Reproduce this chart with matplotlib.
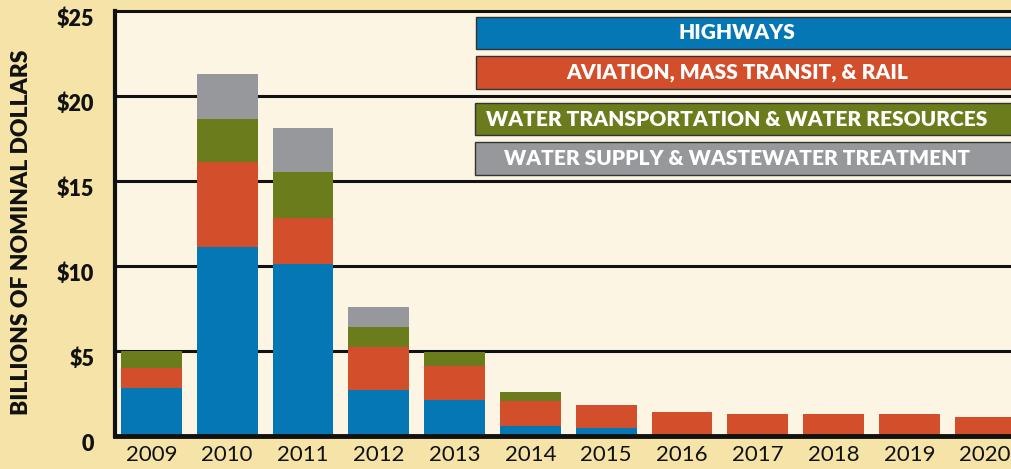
import matplotlib
matplotlib.use("Agg")
import matplotlib.pyplot as plt
import matplotlib.transforms as mtransforms
from matplotlib.patches import Rectangle
import numpy as np

years = ["2009", "2010", "2011", "2012", "2013", "2014", "2015", "2016", "2017", "2018", "2019", "2020"]
highways = [2.8, 11.1, 10.1, 2.7, 2.1, 0.6, 0.47, 0, 0, 0, 0, 0]
aviation = [1.2, 5.0, 2.7, 2.5, 2.0, 1.45, 1.33, 1.39, 1.28, 1.28, 1.28, 1.1]
water_transport = [1.0, 2.5, 2.7, 1.2, 0.8, 0.53, 0, 0, 0, 0, 0, 0]
water_supply = [0, 2.7, 2.6, 1.2, 0, 0, 0, 0, 0, 0, 0, 0]
series_names = ["HIGHWAYS", "AVIATION, MASS TRANSIT, & RAIL",
                "WATER TRANSPORTATION & WATER RESOURCES",
                "WATER SUPPLY & WASTEWATER TREATMENT"]
colors = ["#0577b5", "#d34f2b", "#6a7c1b", "#97989b"]
yticks = [0, 5, 10, 15, 20, 25]
ytick_labels = ["0", "$5", "$10", "$15", "$20", "$25"]

W, H = 1011, 469
fig = plt.figure(figsize=(W / 100, H / 100), dpi=100, facecolor="#f5e3a8")
ax_l, ax_r, ax_b, ax_t = 115, 1011, 469 - 435.7, 469 - 10.7
ax = fig.add_axes([ax_l / W, ax_b / H, (ax_r - ax_l) / W, (ax_t - ax_b) / H])
ax.set_facecolor("#fcf5e3")

x = np.arange(len(years))
bottom = np.zeros(len(years))
for vals, c in zip([highways, aviation, water_transport, water_supply], colors):
    v = np.array(vals, dtype=float)
    ax.bar(x, v, bottom=bottom, width=0.8, color=c, zorder=3, linewidth=0)
    bottom += v

ax.set_xlim(-0.48, 11.34)
ax.set_ylim(0, 25)
ax.set_yticks(yticks)
ax.set_yticklabels(ytick_labels, fontfamily="Lato", fontweight="heavy", fontsize=15.5)
ax.set_xticks(x)
ax.set_xticklabels(years, fontfamily="Lato", fontsize=16)
ax.tick_params(axis="both", length=0, colors="#111111")
ax.tick_params(axis="y", pad=15)
ax.tick_params(axis="x", pad=7)

offset = mtransforms.ScaledTranslation(0, -0.07, fig.dpi_scale_trans)
for lbl in ax.get_yticklabels():
    lbl.set_transform(lbl.get_transform() + offset)

for yv in yticks[1:-1]:
    ax.axhline(yv, color="#111111", linewidth=2.2, zorder=2)
ax.spines["right"].set_visible(False)
ax.spines["left"].set_linewidth(3)
ax.spines["bottom"].set_linewidth(3.5)
ax.spines["top"].set_linewidth(2.2)
for s in ["left", "bottom", "top"]:
    ax.spines[s].set_color("#111111")
    ax.spines[s].set_zorder(4)

fig.text(22 / W, 1 - 232 / H, "BILLIONS OF NOMINAL DOLLARS", rotation=90,
         ha="center", va="center", fontfamily="Lato", fontweight="heavy",
         fontsize=16.5, color="#111111")

# legend boxes (pixel layout)
boxes = [(476, 16.7, 49), (476, 56, 89), (475, 103, 135), (475, 142, 175)]
for (x0, yt, yb), name, c in zip(boxes, series_names, colors):
    rect = Rectangle((x0 / W, 1 - yb / H), (W + 5 - x0) / W, (yb - yt) / H,
                     transform=fig.transFigure, facecolor=c, edgecolor="#333333",
                     linewidth=1, zorder=5)
    fig.patches.append(rect)
    fig.text(737 / W, 1 - (yt + yb) / 2 / H, name, ha="center", va="center",
             color="white", fontfamily="Lato", fontweight="heavy", fontsize=15,
             zorder=6)

fig.savefig("out.png", dpi=100, facecolor=fig.get_facecolor())
